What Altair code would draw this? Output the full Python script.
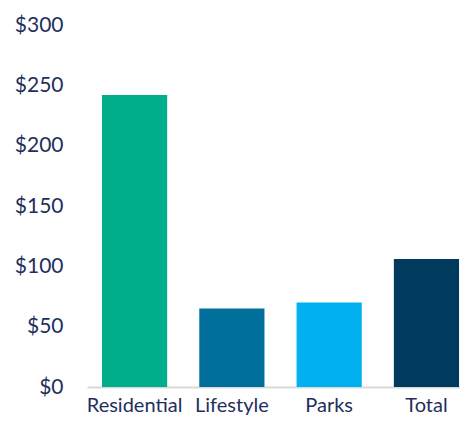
import altair as alt
import pandas as pd

categories = ["Residential", "Lifestyle", "Parks", "Total"]
values = [242, 65, 70, 106]
palette = ["#00AE8C", "#006F9C", "#00B0F0", "#003A5C"]

df = pd.DataFrame({"category": categories, "value": values})

FONT = "Lato"
TEXT = "#1F2F5C"

chart = (
    alt.Chart(df)
    .mark_bar()
    .encode(
        x=alt.X(
            "category:N",
            sort=categories,
            scale=alt.Scale(paddingInner=0.33, paddingOuter=0.082, align=0.94),
            axis=alt.Axis(
                title=None,
                labelAngle=0,
                labelFont=FONT,
                labelFontSize=20,
                labelColor=TEXT,
                labelPadding=8,
                ticks=False,
                tickSize=0,
                domainColor="#D9D9D9",
                domainWidth=2,
                grid=False,
            ),
        ),
        y=alt.Y(
            "value:Q",
            scale=alt.Scale(domain=[0, 300], nice=False),
            axis=alt.Axis(
                title=None,
                values=[0, 50, 100, 150, 200, 250, 300],
                format="$,.0f",
                labelFont=FONT,
                labelFontSize=21,
                labelColor=TEXT,
                labelPadding=24,
                ticks=False,
                tickSize=0,
                domain=False,
                grid=False,
            ),
        ),
        color=alt.Color(
            "category:N",
            scale=alt.Scale(domain=categories, range=palette),
            legend=None,
        ),
    )
    .properties(
        width=373,
        height=362,
        autosize=alt.AutoSizeParams(type="none"),
        padding={"left": 79, "top": 17, "right": 0, "bottom": 31},
    )
    .configure_view(stroke=None)
)

chart.save("out.html", embed_options={"renderer": "svg", "actions": False})
